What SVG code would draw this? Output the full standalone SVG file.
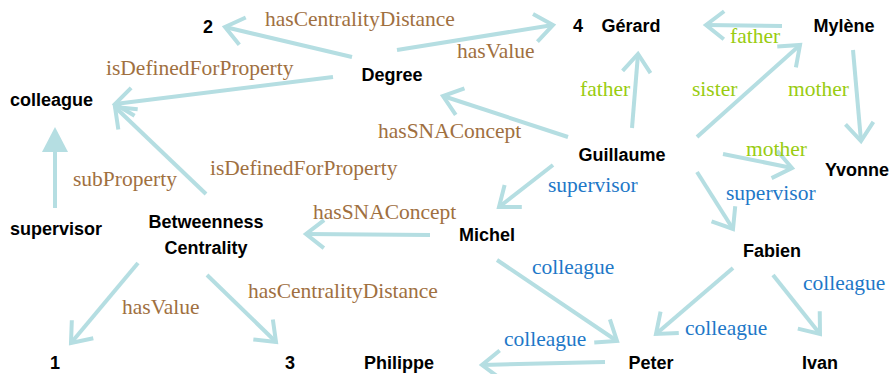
<svg xmlns="http://www.w3.org/2000/svg" width="893" height="374" viewBox="0 0 893 374">
<style>
.n{font-family:"Liberation Sans",Arial,sans-serif;font-weight:bold;font-size:18px;fill:#000;text-anchor:middle}
.l{font-family:"Liberation Serif","Times New Roman",serif;font-size:21.5px}
.b{fill:#A0703F}.g{fill:#99CC11}.u{fill:#1E78C8}
.e{stroke:#B5DEE2;stroke-width:4;fill:none;marker-end:url(#a)}
</style>
<defs>
<marker id="a" markerUnits="userSpaceOnUse" markerWidth="40" markerHeight="40" refX="0" refY="0" viewBox="-22 -20 26 40" orient="auto" overflow="visible">
<path d="M-18,-14 L0,0 L-18,14" fill="none" stroke="#B5DEE2" stroke-width="4"/>
</marker>
</defs>
<g id="connectors">
<line class="e" x1="352" y1="57" x2="225" y2="27"/>
<line class="e" x1="397" y1="50" x2="553" y2="25"/>
<line class="e" x1="333" y1="77" x2="115" y2="104"/>
<line class="e" x1="206" y1="194" x2="115" y2="107"/>
<line x1="55" y1="208" x2="55" y2="150" stroke="#B5DEE2" stroke-width="4"/>
<polygon points="55,127 42,152 68,152" fill="#B5DEE2"/>
<line class="e" x1="568" y1="137" x2="443" y2="96"/>
<line class="e" x1="632" y1="128" x2="638" y2="54"/>
<line class="e" x1="697" y1="137" x2="800" y2="45"/>
<line class="e" x1="782" y1="26" x2="706" y2="25"/>
<line class="e" x1="853" y1="50" x2="861" y2="141"/>
<line class="e" x1="723" y1="154" x2="792" y2="168"/>
<line class="e" x1="553" y1="165" x2="499" y2="207"/>
<line class="e" x1="697" y1="172" x2="733" y2="229"/>
<line class="e" x1="430" y1="235" x2="306" y2="234"/>
<line class="e" x1="138" y1="263" x2="71" y2="343"/>
<line class="e" x1="207" y1="275" x2="276" y2="342"/>
<line class="e" x1="497" y1="260" x2="617" y2="341"/>
<line class="e" x1="733" y1="268" x2="656" y2="334"/>
<line class="e" x1="773" y1="275" x2="820" y2="334"/>
<line class="e" x1="605" y1="362" x2="482" y2="365"/>
</g>
<g id="labels">
<text class="l b" x="265" y="26">hasCentralityDistance</text>
<text class="l b" x="457" y="58">hasValue</text>
<text class="l b" x="106" y="75">isDefinedForProperty</text>
<text class="l b" x="378" y="138">hasSNAConcept</text>
<text class="l b" x="210" y="175">isDefinedForProperty</text>
<text class="l b" x="73" y="186">subProperty</text>
<text class="l b" x="313" y="219">hasSNAConcept</text>
<text class="l b" x="122" y="314">hasValue</text>
<text class="l b" x="248" y="298">hasCentralityDistance</text>
<text class="l g" x="730" y="43">father</text>
<text class="l g" x="580" y="96">father</text>
<text class="l g" x="692" y="96">sister</text>
<text class="l g" x="788" y="96">mother</text>
<text class="l g" x="746" y="156">mother</text>
<text class="l u" x="548" y="192">supervisor</text>
<text class="l u" x="726" y="200">supervisor</text>
<text class="l u" x="532" y="274">colleague</text>
<text class="l u" x="803" y="290">colleague</text>
<text class="l u" x="685" y="335">colleague</text>
<text class="l u" x="504" y="346">colleague</text>
</g>
<g id="n2"><text class="n" x="208" y="33">2</text></g>
<g id="colleague"><text class="n" x="51.5" y="106">colleague</text></g>
<g id="degree"><text class="n" x="392" y="81">Degree</text></g>
<g id="n4"><text class="n" x="578" y="32">4</text></g>
<g id="gerard"><text class="n" x="631" y="32">Gérard</text></g>
<g id="mylene"><text class="n" x="844" y="32">Mylène</text></g>
<g id="guillaume"><text class="n" x="622" y="161">Guillaume</text></g>
<g id="yvonne"><text class="n" x="857" y="176">Yvonne</text></g>
<g id="supervisor"><text class="n" x="56" y="235">supervisor</text></g>
<g id="betweenness"><text class="n" x="206" y="228">Betweenness</text><text class="n" x="206" y="254">Centrality</text></g>
<g id="n1"><text class="n" x="55" y="369">1</text></g>
<g id="n3"><text class="n" x="290" y="369">3</text></g>
<g id="philippe"><text class="n" x="399" y="369">Philippe</text></g>
<g id="michel"><text class="n" x="487" y="241">Michel</text></g>
<g id="fabien"><text class="n" x="772" y="257">Fabien</text></g>
<g id="peter"><text class="n" x="651" y="369">Peter</text></g>
<g id="ivan"><text class="n" x="820" y="369">Ivan</text></g>
</svg>
